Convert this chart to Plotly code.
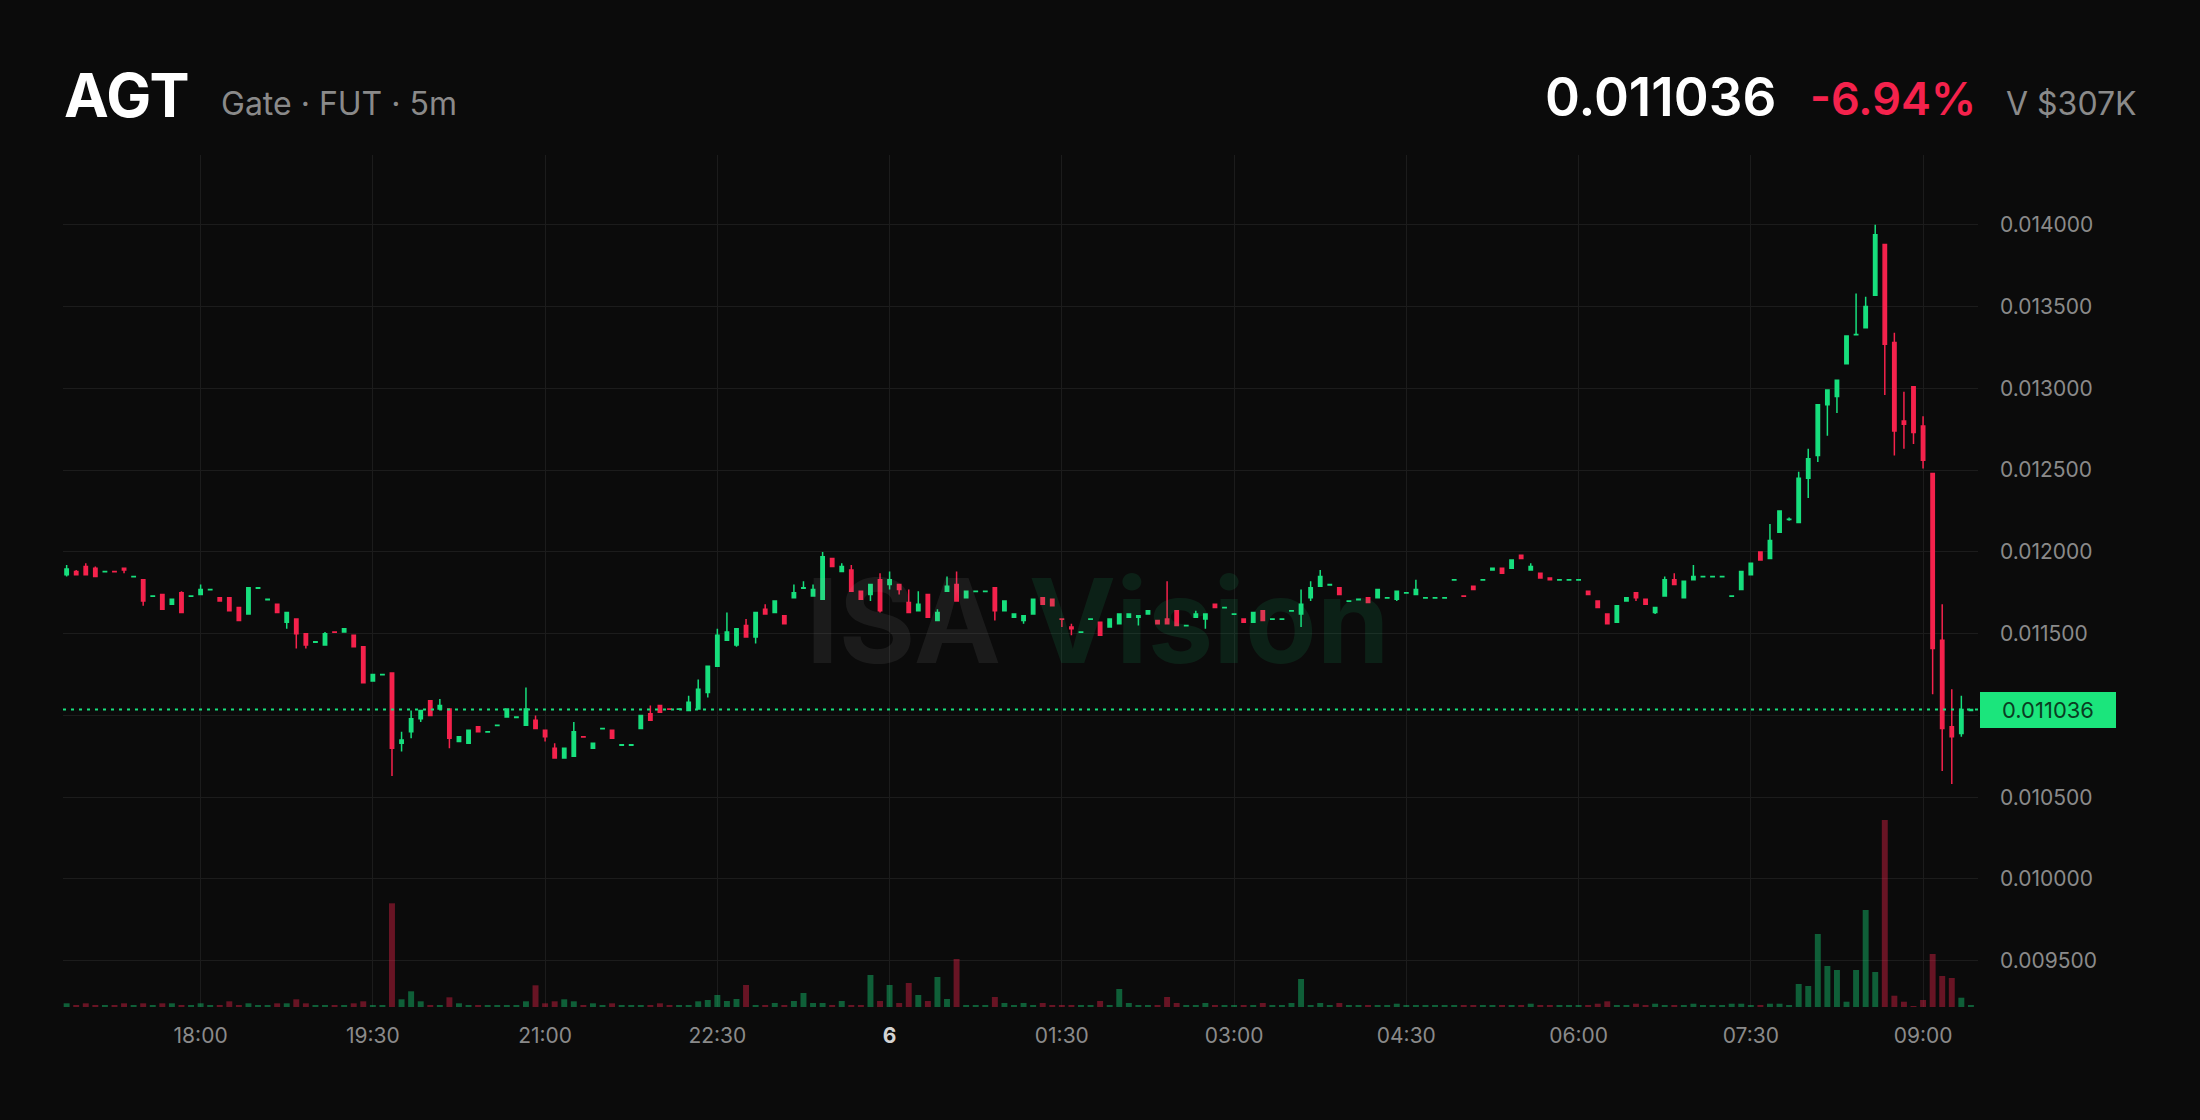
import pandas as pd
import plotly.graph_objects as go

# 5 minute candles, AGT Gate futures
times = pd.date_range("2025-03-05 16:50", periods=200, freq="5min")

opens = [
    0.011860, 0.011880, 0.011910, 0.011900, 0.011878, 0.011880, 0.011900, 0.011848, 0.011830, 0.011728,
    0.011740, 0.011680, 0.011750, 0.011728, 0.011740, 0.011768, 0.011720, 0.011720, 0.011660, 0.011620,
    0.011778, 0.011708, 0.011680, 0.011570, 0.011590, 0.011500, 0.011448, 0.011430, 0.011510, 0.011510,
    0.011490, 0.011420, 0.011210, 0.011248, 0.011260, 0.010830, 0.010900, 0.010980, 0.011090, 0.011040,
    0.011040, 0.010840, 0.010830, 0.010930, 0.010898, 0.010938, 0.010990, 0.010988, 0.010940, 0.010970,
    0.010910, 0.010800, 0.010740, 0.010750, 0.010870, 0.010800, 0.010918, 0.010910, 0.010818, 0.010818,
    0.010920, 0.011010, 0.011060, 0.011040, 0.011038, 0.011030, 0.011040, 0.011140, 0.011300, 0.011460,
    0.011430, 0.011550, 0.011480, 0.011650, 0.011630, 0.011610, 0.011720, 0.011778, 0.011730, 0.011710,
    0.011960, 0.011880, 0.011890, 0.011760, 0.011740, 0.011830, 0.011800, 0.011800, 0.011690, 0.011640,
    0.011740, 0.011580, 0.011760, 0.011800, 0.011720, 0.011758, 0.011758, 0.011780, 0.011640, 0.011600,
    0.011580, 0.011620, 0.011720, 0.011710, 0.011590, 0.011540, 0.011508, 0.011588, 0.011570, 0.011540,
    0.011560, 0.011600, 0.011600, 0.011620, 0.011580, 0.011590, 0.011640, 0.011548, 0.011600, 0.011590,
    0.011680, 0.011658, 0.011618, 0.011590, 0.011570, 0.011640, 0.011588, 0.011588, 0.011638, 0.011620,
    0.011720, 0.011790, 0.011798, 0.011780, 0.011698, 0.011708, 0.011720, 0.011720, 0.011718, 0.011710,
    0.011748, 0.011740, 0.011718, 0.011718, 0.011718, 0.011828, 0.011730, 0.011790, 0.011828, 0.011890,
    0.011900, 0.011900, 0.011980, 0.011890, 0.011870, 0.011840, 0.011828, 0.011828, 0.011828, 0.011760,
    0.011700, 0.011620, 0.011570, 0.011700, 0.011750, 0.011710, 0.011630, 0.011730, 0.011830, 0.011720,
    0.011830, 0.011848, 0.011848, 0.011848, 0.011728, 0.011770, 0.011860, 0.012000, 0.011960, 0.012120,
    0.012198, 0.012180, 0.012450, 0.012590, 0.012900, 0.012950, 0.013150, 0.013328, 0.013370, 0.013570,
    0.013880, 0.013280, 0.012800, 0.013010, 0.012770, 0.012480, 0.011460, 0.010930, 0.010890, 0.011030,
]

highs = [
    0.011920, 0.011890, 0.011930, 0.011910, 0.011880, 0.011880, 0.011900, 0.011850, 0.011830, 0.011730,
    0.011740, 0.011710, 0.011760, 0.011730, 0.011800, 0.011770, 0.011720, 0.011720, 0.011660, 0.011780,
    0.011780, 0.011710, 0.011680, 0.011630, 0.011590, 0.011500, 0.011450, 0.011510, 0.011510, 0.011530,
    0.011490, 0.011420, 0.011250, 0.011250, 0.011260, 0.010900, 0.011030, 0.011030, 0.011090, 0.011100,
    0.011040, 0.010870, 0.010910, 0.010930, 0.010900, 0.010940, 0.011040, 0.010990, 0.011170, 0.011000,
    0.010910, 0.010830, 0.010800, 0.010960, 0.010870, 0.010830, 0.010920, 0.010910, 0.010820, 0.010820,
    0.011000, 0.011060, 0.011060, 0.011040, 0.011040, 0.011120, 0.011220, 0.011300, 0.011530, 0.011630,
    0.011530, 0.011590, 0.011630, 0.011680, 0.011700, 0.011610, 0.011800, 0.011820, 0.011800, 0.012000,
    0.011960, 0.011930, 0.011920, 0.011760, 0.011800, 0.011870, 0.011880, 0.011800, 0.011770, 0.011760,
    0.011740, 0.011650, 0.011850, 0.011880, 0.011760, 0.011760, 0.011760, 0.011780, 0.011700, 0.011620,
    0.011610, 0.011710, 0.011720, 0.011710, 0.011590, 0.011560, 0.011510, 0.011590, 0.011570, 0.011590,
    0.011620, 0.011620, 0.011610, 0.011640, 0.011580, 0.011820, 0.011640, 0.011550, 0.011640, 0.011620,
    0.011680, 0.011660, 0.011620, 0.011590, 0.011630, 0.011640, 0.011590, 0.011590, 0.011640, 0.011770,
    0.011820, 0.011890, 0.011800, 0.011780, 0.011700, 0.011710, 0.011720, 0.011770, 0.011720, 0.011760,
    0.011750, 0.011830, 0.011720, 0.011720, 0.011720, 0.011830, 0.011730, 0.011790, 0.011830, 0.011900,
    0.011900, 0.011950, 0.011980, 0.011930, 0.011870, 0.011840, 0.011830, 0.011830, 0.011830, 0.011760,
    0.011700, 0.011620, 0.011670, 0.011720, 0.011750, 0.011710, 0.011660, 0.011850, 0.011870, 0.011820,
    0.011920, 0.011850, 0.011850, 0.011850, 0.011730, 0.011880, 0.011930, 0.012000, 0.012170, 0.012250,
    0.012210, 0.012490, 0.012630, 0.012900, 0.012990, 0.013050, 0.013320, 0.013580, 0.013560, 0.014000,
    0.013880, 0.013340, 0.012980, 0.013010, 0.012830, 0.012480, 0.011680, 0.011160, 0.011120, 0.011040,
]

lows = [
    0.011850, 0.011860, 0.011860, 0.011850, 0.011878, 0.011878, 0.011870, 0.011848, 0.011670, 0.011728,
    0.011650, 0.011680, 0.011630, 0.011728, 0.011740, 0.011768, 0.011700, 0.011640, 0.011580, 0.011620,
    0.011778, 0.011708, 0.011630, 0.011530, 0.011410, 0.011410, 0.011448, 0.011430, 0.011508, 0.011510,
    0.011420, 0.011200, 0.011210, 0.011248, 0.010630, 0.010780, 0.010860, 0.010960, 0.011000, 0.011040,
    0.010800, 0.010840, 0.010830, 0.010900, 0.010898, 0.010938, 0.010990, 0.010988, 0.010940, 0.010920,
    0.010840, 0.010740, 0.010740, 0.010750, 0.010868, 0.010800, 0.010918, 0.010860, 0.010818, 0.010818,
    0.010920, 0.010970, 0.011020, 0.011038, 0.011038, 0.011030, 0.011040, 0.011110, 0.011300, 0.011460,
    0.011420, 0.011480, 0.011440, 0.011620, 0.011630, 0.011560, 0.011720, 0.011778, 0.011730, 0.011710,
    0.011910, 0.011880, 0.011760, 0.011710, 0.011700, 0.011630, 0.011770, 0.011740, 0.011630, 0.011640,
    0.011600, 0.011580, 0.011760, 0.011700, 0.011720, 0.011758, 0.011758, 0.011580, 0.011640, 0.011600,
    0.011560, 0.011620, 0.011680, 0.011670, 0.011540, 0.011490, 0.011508, 0.011588, 0.011490, 0.011540,
    0.011560, 0.011600, 0.011550, 0.011620, 0.011560, 0.011560, 0.011550, 0.011548, 0.011600, 0.011530,
    0.011660, 0.011658, 0.011618, 0.011570, 0.011570, 0.011580, 0.011588, 0.011588, 0.011638, 0.011540,
    0.011700, 0.011790, 0.011798, 0.011740, 0.011698, 0.011708, 0.011690, 0.011720, 0.011718, 0.011700,
    0.011748, 0.011740, 0.011718, 0.011718, 0.011718, 0.011828, 0.011728, 0.011770, 0.011828, 0.011890,
    0.011870, 0.011900, 0.011960, 0.011890, 0.011840, 0.011830, 0.011828, 0.011828, 0.011828, 0.011740,
    0.011660, 0.011560, 0.011570, 0.011700, 0.011700, 0.011680, 0.011620, 0.011730, 0.011800, 0.011720,
    0.011830, 0.011848, 0.011848, 0.011848, 0.011728, 0.011770, 0.011860, 0.011950, 0.011960, 0.012120,
    0.012190, 0.012180, 0.012330, 0.012550, 0.012710, 0.012850, 0.013150, 0.013328, 0.013370, 0.013570,
    0.012960, 0.012590, 0.012630, 0.012660, 0.012510, 0.011130, 0.010660, 0.010580, 0.010870, 0.011030,
]

closes = [
    0.011895, 0.011860, 0.011860, 0.011850, 0.011880, 0.011878, 0.011890, 0.011850, 0.011700, 0.011730,
    0.011650, 0.011710, 0.011630, 0.011730, 0.011770, 0.011770, 0.011700, 0.011640, 0.011580, 0.011780,
    0.011780, 0.011710, 0.011630, 0.011630, 0.011500, 0.011430, 0.011450, 0.011500, 0.011508, 0.011530,
    0.011420, 0.011200, 0.011250, 0.011250, 0.010800, 0.010850, 0.010980, 0.011030, 0.011000, 0.011060,
    0.010860, 0.010870, 0.010910, 0.010900, 0.010900, 0.010940, 0.011040, 0.010990, 0.011040, 0.010920,
    0.010870, 0.010740, 0.010800, 0.010900, 0.010868, 0.010830, 0.010920, 0.010860, 0.010820, 0.010820,
    0.011000, 0.010970, 0.011020, 0.011038, 0.011040, 0.011080, 0.011160, 0.011300, 0.011490, 0.011510,
    0.011530, 0.011480, 0.011630, 0.011620, 0.011700, 0.011560, 0.011750, 0.011780, 0.011770, 0.011970,
    0.011910, 0.011910, 0.011760, 0.011710, 0.011800, 0.011640, 0.011830, 0.011770, 0.011630, 0.011680,
    0.011600, 0.011630, 0.011790, 0.011700, 0.011760, 0.011760, 0.011760, 0.011640, 0.011700, 0.011620,
    0.011610, 0.011710, 0.011680, 0.011670, 0.011588, 0.011530, 0.011510, 0.011590, 0.011490, 0.011590,
    0.011620, 0.011620, 0.011610, 0.011640, 0.011560, 0.011560, 0.011550, 0.011550, 0.011620, 0.011620,
    0.011660, 0.011660, 0.011620, 0.011570, 0.011630, 0.011580, 0.011590, 0.011590, 0.011640, 0.011680,
    0.011780, 0.011850, 0.011800, 0.011740, 0.011700, 0.011710, 0.011690, 0.011770, 0.011720, 0.011760,
    0.011750, 0.011770, 0.011720, 0.011720, 0.011720, 0.011830, 0.011728, 0.011770, 0.011830, 0.011900,
    0.011870, 0.011950, 0.011960, 0.011910, 0.011840, 0.011830, 0.011830, 0.011830, 0.011830, 0.011740,
    0.011660, 0.011560, 0.011670, 0.011720, 0.011720, 0.011680, 0.011660, 0.011830, 0.011800, 0.011820,
    0.011850, 0.011850, 0.011850, 0.011850, 0.011730, 0.011880, 0.011930, 0.011950, 0.012070, 0.012250,
    0.012200, 0.012450, 0.012570, 0.012900, 0.012990, 0.013050, 0.013320, 0.013330, 0.013500, 0.013940,
    0.013270, 0.012740, 0.012780, 0.012730, 0.012560, 0.011410, 0.010920, 0.010870, 0.011036, 0.011036,
]

volumes = [
    3.7, 1.7, 3.7, 1.7, 1.7, 1.7, 3.7, 1.7, 3.7, 1.7,
    3.7, 3.7, 1.7, 1.7, 3.7, 1.7, 1.7, 5.7, 1.7, 3.7,
    1.7, 1.7, 3.7, 3.7, 7.7, 3.7, 1.7, 1.7, 1.7, 1.7,
    3.7, 5.7, 1.7, 1.7, 103.7, 7.7, 15.7, 5.7, 1.7, 1.7,
    9.7, 3.7, 1.7, 1.7, 1.7, 1.7, 1.7, 1.7, 5.7, 21.7,
    3.7, 5.7, 7.7, 5.7, 1.7, 3.7, 1.7, 3.7, 1.7, 1.7,
    1.7, 1.7, 3.7, 1.7, 1.7, 1.7, 5.7, 7.0, 12.0, 6.0,
    8.0, 22.0, 2.0, 2.0, 4.0, 2.0, 6.0, 14.0, 4.0, 4.0,
    2.0, 6.0, 2.0, 2.0, 32.0, 6.0, 22.0, 4.0, 24.0, 12.0,
    6.0, 30.0, 8.0, 48.0, 2.0, 2.0, 2.0, 10.0, 4.0, 2.0,
    4.0, 2.0, 4.0, 2.0, 2.0, 2.0, 2.0, 2.0, 6.0, 2.0,
    18.0, 4.0, 2.0, 2.0, 2.0, 10.0, 4.0, 2.0, 2.0, 4.0,
    2.0, 2.0, 2.0, 2.0, 2.0, 4.0, 2.0, 2.0, 4.0, 28.0,
    2.0, 4.0, 2.0, 4.0, 1.3, 1.3, 1.3, 1.3, 1.3, 3.3,
    1.3, 1.3, 1.3, 1.3, 1.3, 1.3, 1.3, 1.3, 1.3, 1.3,
    1.3, 1.3, 1.3, 3.3, 1.3, 1.3, 1.3, 1.3, 1.3, 1.3,
    3.3, 5.7, 1.3, 1.3, 3.3, 1.3, 3.3, 1.3, 1.3, 1.3,
    3.3, 1.3, 1.3, 1.3, 3.3, 3.3, 1.3, 1.3, 3.3, 3.3,
    1.3, 23.0, 21.0, 73.0, 41.0, 37.0, 5.3, 37.0, 97.0, 35.0,
    187.0, 11.3, 5.3, 1.0, 7.0, 53.0, 31.0, 29.0, 9.3, 1.3,
]

price_ticks = [0.0095, 0.0100, 0.0105, 0.0110, 0.0115, 0.0120, 0.0125, 0.0130, 0.0135, 0.0140]
# the 0.011000 label sits under the last-price tag, so it has no text
price_labels = ["0.009500", "0.010000", "0.010500", "", "0.011500", "0.012000",
                "0.012500", "0.013000", "0.013500", "0.014000"]
time_ticks = pd.date_range("2025-03-05 18:00", "2025-03-06 09:00", freq="90min")
time_labels = ["18:00", "19:30", "21:00", "22:30", "<b><span style='color:#d4d4d4'>6</span></b>",
               "01:30", "03:00", "04:30", "06:00", "07:30", "09:00"]

symbol = "AGT"
venue = "Gate · FUT · 5m"
last_price = closes[-1]
change_pct = "-6.94%"
vol_24h = "V $307K"

BG = "#0b0b0b"
GREEN = "#17df7d"
RED = "#f5224c"
GRID = "#1c1c1c"
LABEL = "#8a8a8a"

W, H = 2200, 1120
M_L, M_R, M_T, M_B = 63, 222, 155, 113
PLOT_W = W - M_L - M_R
PLOT_H = H - M_T - M_B


def px_x(px):
    return (px - M_L) / PLOT_W


def px_y(py):
    return (H - M_B - py) / PLOT_H


vol_colors = [GREEN if c >= o else RED for o, c in zip(opens, closes)]

fig = go.Figure()

fig.add_trace(go.Candlestick(
    x=times, open=opens, high=highs, low=lows, close=closes,
    increasing=dict(line=dict(color=GREEN, width=1.5), fillcolor=GREEN),
    decreasing=dict(line=dict(color=RED, width=1.5), fillcolor=RED),
    whiskerwidth=0, hoverinfo="skip",
))

fig.add_trace(go.Bar(
    x=times, y=volumes, yaxis="y2",
    marker=dict(color=vol_colors, opacity=0.4, line=dict(width=0)),
    hoverinfo="skip",
))

fig.add_shape(type="line", xref="paper", x0=0, x1=1, yref="y", y0=last_price, y1=last_price,
              line=dict(color=GREEN, width=2, dash="3px,5px"))

ann = [
    dict(text="<b>" + symbol + "</b>", x=px_x(62), y=px_y(95), xanchor="left",
         font=dict(size=60, color="#ffffff", family="Inter")),
    dict(text=venue, x=px_x(219), y=px_y(104), xanchor="left",
         font=dict(size=32, color=LABEL, family="Inter")),
    dict(text=f"{last_price:.6f}", x=px_x(1778), y=px_y(97), xanchor="right",
         font=dict(size=53, color="#ffffff", family="Inter", weight=600)),
    dict(text=change_pct, x=px_x(1978), y=px_y(99), xanchor="right",
         font=dict(size=45, color=RED, family="Inter", weight=600)),
    dict(text=vol_24h, x=px_x(2139), y=px_y(104), xanchor="right",
         font=dict(size=32, color=LABEL, family="Inter")),
    dict(text="<b>ISA <span style='color:#19e07f'>Vision</span></b>",
         x=px_x(1098), y=px_y(620), xanchor="center", opacity=0.1,
         font=dict(size=117, color="#a8a8a8", family="Inter")),
    dict(text=f"{last_price:.6f}", xref="paper", x=px_x(1980), yref="y", y=last_price,
         xanchor="left", width=130, height=30, bgcolor="#1be57c", bordercolor="#1be57c",
         borderpad=2, font=dict(size=22, color="#0a3d22", family="Inter")),
]
for a in ann:
    a.setdefault("xref", "paper")
    a.setdefault("yref", "paper")
    a.setdefault("yanchor", "middle")
    a["showarrow"] = False
    fig.add_annotation(**a)

fig.update_layout(
    width=W, height=H,
    margin=dict(l=M_L, r=M_R, t=M_T, b=M_B),
    paper_bgcolor=BG, plot_bgcolor=BG,
    showlegend=False, boxgap=0.5, bargap=0.38,
    font=dict(family="Inter", color=LABEL, size=21),
    xaxis=dict(
        type="date", rangeslider=dict(visible=False),
        range=[times[0] - pd.Timedelta(minutes=1.9), times[0] + pd.Timedelta(minutes=998.7)],
        tickvals=time_ticks, ticktext=time_labels,
        showgrid=True, gridcolor=GRID, gridwidth=1, zeroline=False, showline=False,
        ticks="", ticklabelstandoff=14, tickfont=dict(size=21, color=LABEL),
    ),
    yaxis=dict(
        side="right", range=[0.009217, 0.014427],
        tickvals=price_ticks, ticktext=price_labels,
        showgrid=True, gridcolor=GRID, gridwidth=1, zeroline=False, showline=False,
        ticks="", ticklabelstandoff=21, tickfont=dict(size=21, color=LABEL),
    ),
    yaxis2=dict(overlaying="y", range=[0, PLOT_H], visible=False, showgrid=False),
)

fig.write_html("out.html", config={"displayModeBar": False},
               post_script="document.body.style.margin='0';"
               "document.body.style.background='" + BG + "';")
